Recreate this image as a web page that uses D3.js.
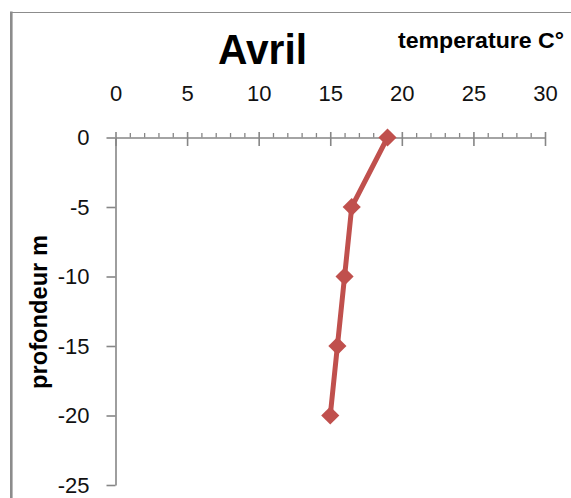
<!DOCTYPE html>
<html>
<head>
<meta charset="utf-8">
<script src="https://cdn.jsdelivr.net/npm/d3@7"></script>
<style>
  html, body { margin: 0; padding: 0; background: #fff; }
  svg { display: block; }
  text { font-family: "Liberation Sans", Arial, sans-serif; }
</style>
</head>
<body>
<script>
// Temperature profile for April: depth (m) against water temperature (°C)
const depths = [0, -5, -10, -15, -20];
const temperatures = [19, 16.5, 16, 15.5, 15];
const xTickValues = [0, 5, 10, 15, 20, 25, 30];
const xMinorValues = d3.range(0, 31).filter(v => v % 5 !== 0);
const yTickValues = [0, -5, -10, -15, -20, -25];

const W = 571, H = 498;
const svg = d3.select("body").append("svg").attr("width", W).attr("height", H);

const x = d3.scaleLinear().domain([0, 30]).range([115.5, 545]);
const y = d3.scaleLinear().domain([0, -25]).range([137.5, 485]);

const axisColor = "#868686";

// chart frame: thick left edge and thin top edge
svg.append("line").attr("x1", 11.3).attr("x2", 11.3).attr("y1", 11.5).attr("y2", H)
  .attr("stroke", "#8c8c8c").attr("stroke-width", 2.6);
svg.append("line").attr("x1", 10).attr("x2", W).attr("y1", 12.5).attr("y2", 12.5)
  .attr("stroke", "#8c8c8c").attr("stroke-width", 1.2);

// title and axis titles
svg.append("text").attr("x", 262.5).attr("y", 64).attr("text-anchor", "middle")
  .attr("font-size", 43).attr("font-weight", "bold")
  .attr("textLength", 89).attr("lengthAdjust", "spacingAndGlyphs")
  .text("Avril");
svg.append("text").attr("x", 398).attr("y", 48)
  .attr("font-size", 22).attr("font-weight", "bold")
  .attr("textLength", 166).attr("lengthAdjust", "spacingAndGlyphs")
  .text("temperature C°");
svg.append("text").attr("transform", "translate(46.5,312) rotate(-90)")
  .attr("text-anchor", "middle")
  .attr("font-size", 23).attr("font-weight", "bold")
  .attr("textLength", 154).attr("lengthAdjust", "spacingAndGlyphs")
  .text("profondeur m");

// y axis (depth), ticks to the left
const gy = svg.append("g").attr("transform", `translate(${x(0)},0)`)
  .call(d3.axisLeft(y).tickValues(yTickValues).tickSize(9).tickSizeOuter(0).tickPadding(17)
    .tickFormat(d => d === 0 ? "0" : String(d)));
gy.select(".domain").attr("stroke", axisColor).attr("stroke-width", 1.6);
gy.selectAll(".tick line").attr("stroke", axisColor).attr("stroke-width", 1.6);
gy.selectAll(".tick text").attr("font-size", 22).attr("fill", "#111")
  .attr("font-family", "Liberation Sans, Arial, sans-serif");

// x axis (temperature) at depth 0, labels on top
const gxMinor = svg.append("g").attr("transform", `translate(0,${y(0)})`)
  .call(d3.axisTop(x).tickValues(xMinorValues).tickSize(4.5).tickSizeOuter(0).tickFormat(""));
gxMinor.select(".domain").remove();
gxMinor.selectAll(".tick line").attr("stroke", axisColor).attr("stroke-width", 1.3);

const gx = svg.append("g").attr("transform", `translate(0,${y(0)})`)
  .call(d3.axisTop(x).tickValues(xTickValues).tickSize(5.5).tickSizeOuter(0));
gx.select(".domain").attr("stroke", axisColor).attr("stroke-width", 1.6);
gx.selectAll(".tick line").attr("stroke", axisColor).attr("stroke-width", 1.6)
  .attr("y1", 8.5).attr("y2", -5.5);
gx.selectAll(".tick text").attr("font-size", 22).attr("fill", "#111")
  .attr("y", -36.5).attr("dy", 0)
  .attr("font-family", "Liberation Sans, Arial, sans-serif");

// profile line with diamond markers
const pts = depths.map((d, i) => ({ depth: d, temp: temperatures[i] }));
const red = "#C0504D";
svg.append("path").datum(pts)
  .attr("fill", "none").attr("stroke", red).attr("stroke-width", 5)
  .attr("stroke-linejoin", "round")
  .attr("d", d3.line().x(p => x(p.temp)).y(p => y(p.depth)));

const diamond = d3.symbol().type(d3.symbolDiamond2).size(210);
svg.append("g").selectAll("path").data(pts).join("path")
  .attr("transform", p => `translate(${x(p.temp)},${y(p.depth)})`)
  .attr("d", diamond).attr("fill", red);
</script>
</body>
</html>
